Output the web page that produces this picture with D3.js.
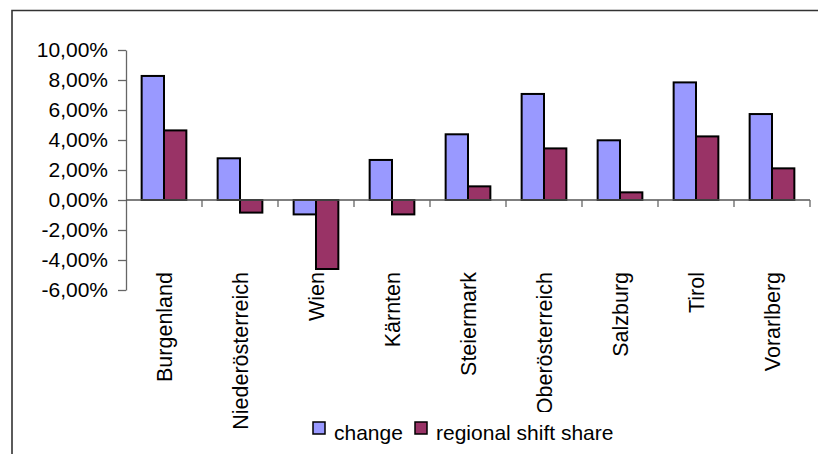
<!DOCTYPE html>
<html>
<head>
<meta charset="utf-8">
<script src="https://cdn.jsdelivr.net/npm/d3@7"></script>
<style>
  body { margin: 0; background: #fff; }
  svg { font-family: Arial, "Liberation Sans", sans-serif; }
</style>
</head>
<body>
<svg id="chart" width="818" height="454"></svg>
<script>
// data
var regions = ["Burgenland", "Niederösterreich", "Wien", "Kärnten", "Steiermark",
               "Oberösterreich", "Salzburg", "Tirol", "Vorarlberg"];
var change = [0.0827, 0.0278, -0.0096, 0.0267, 0.0438, 0.0707, 0.0398, 0.0784, 0.0573];
var shiftShare = [0.0464, -0.0084, -0.0460, -0.0096, 0.0091, 0.0344, 0.0051, 0.0424, 0.0211];
var yTicks = [-0.06, -0.04, -0.02, 0, 0.02, 0.04, 0.06, 0.08, 0.10];
var seriesNames = ["change", "regional shift share"];
var seriesColors = ["#9999ff", "#993366"];

var svg = d3.select("#chart");

// outer frame (runs off the right and bottom edge)
svg.append("path")
    .attr("d", "M12,460 L12,10.5 L830,10.5")
    .attr("fill", "none")
    .attr("stroke", "#333")
    .attr("stroke-width", 1.6);

var plotLeft = 126, plotRight = 810, plotTop = 50, plotBottom = 290;

var xScale = d3.scaleBand()
    .domain(regions)
    .range([plotLeft, plotRight])
    .padding(0);

var xInner = d3.scaleBand()
    .domain(seriesNames)
    .range([0, xScale.bandwidth()])
    .paddingInner(0)
    .paddingOuter(0.7);

var yScale = d3.scaleLinear()
    .domain([-0.06, 0.10])
    .range([plotBottom, plotTop]);

var fmt = function (d) {
    return d3.format(".2f")(d * 100).replace("−", "-").replace(".", ",") + "%";
};

// y axis
var yAxis = svg.append("g")
    .attr("transform", "translate(" + plotLeft + ",0)")
    .call(d3.axisLeft(yScale).tickValues(yTicks).tickFormat(fmt).tickSize(8).tickSizeOuter(0).tickPadding(10));
yAxis.select(".domain").attr("stroke", "#666").attr("stroke-width", 1.3);
yAxis.selectAll(".tick line").attr("stroke", "#666").attr("stroke-width", 1.3);
yAxis.selectAll("text")
    .style("font-size", "21px")
    .attr("fill", "#000");

// bars
var rows = regions.map(function (r, i) {
    return { region: r, values: [change[i], shiftShare[i]] };
});

var groups = svg.selectAll(".grp")
    .data(rows)
    .enter().append("g")
    .attr("class", "grp")
    .attr("transform", function (d) { return "translate(" + xScale(d.region) + ",0)"; });

groups.selectAll("rect")
    .data(function (d) { return d.values.map(function (v, j) { return { name: seriesNames[j], v: v, j: j }; }); })
    .enter().append("rect")
    .attr("x", function (d) { return xInner(d.name); })
    .attr("width", xInner.bandwidth())
    .attr("y", function (d) { return yScale(Math.max(0, d.v)); })
    .attr("height", function (d) { return Math.abs(yScale(d.v) - yScale(0)); })
    .attr("fill", function (d) { return seriesColors[d.j]; })
    .attr("stroke", "#000")
    .attr("stroke-width", 2);

// x axis at zero, ticks on category boundaries
var zeroY = yScale(0);
var xAxis = svg.append("g")
    .attr("transform", "translate(0," + zeroY + ")");
xAxis.append("line")
    .attr("x1", plotLeft).attr("x2", plotRight)
    .attr("y1", 0).attr("y2", 0)
    .attr("stroke", "#555")
    .attr("stroke-width", 1.3);
var bounds = regions.map(function (r) { return xScale(r) + xScale.bandwidth(); });
xAxis.selectAll(".btick")
    .data(bounds)
    .enter().append("line")
    .attr("class", "btick")
    .attr("x1", function (d) { return d; })
    .attr("x2", function (d) { return d; })
    .attr("y1", 0).attr("y2", 7)
    .attr("stroke", "#666")
    .attr("stroke-width", 1.3);

// category labels, rotated
svg.selectAll(".cat")
    .data(regions)
    .enter().append("text")
    .attr("class", "cat")
    .attr("transform", function (d) {
        return "translate(" + (xScale(d) + xScale.bandwidth() / 2) + ",272) rotate(-90)";
    })
    .attr("text-anchor", "end")
    .attr("dy", "0.35em")
    .style("font-size", "21.5px")
    .text(function (d) { return d; });

// legend (white box covers the tail of long labels)
var legend = svg.append("g");
legend.append("rect")
    .attr("x", 308).attr("y", 412)
    .attr("width", 320).attr("height", 42)
    .attr("fill", "#fff");

var legendX = [313, 415];
seriesNames.forEach(function (name, i) {
    legend.append("rect")
        .attr("x", legendX[i]).attr("y", 422)
        .attr("width", 12).attr("height", 12)
        .attr("fill", seriesColors[i])
        .attr("stroke", "#000")
        .attr("stroke-width", 1.5);
    legend.append("text")
        .attr("x", legendX[i] + 21)
        .attr("y", 440)
        .style("font-size", "21px")
        .text(name);
});
</script>
</body>
</html>
